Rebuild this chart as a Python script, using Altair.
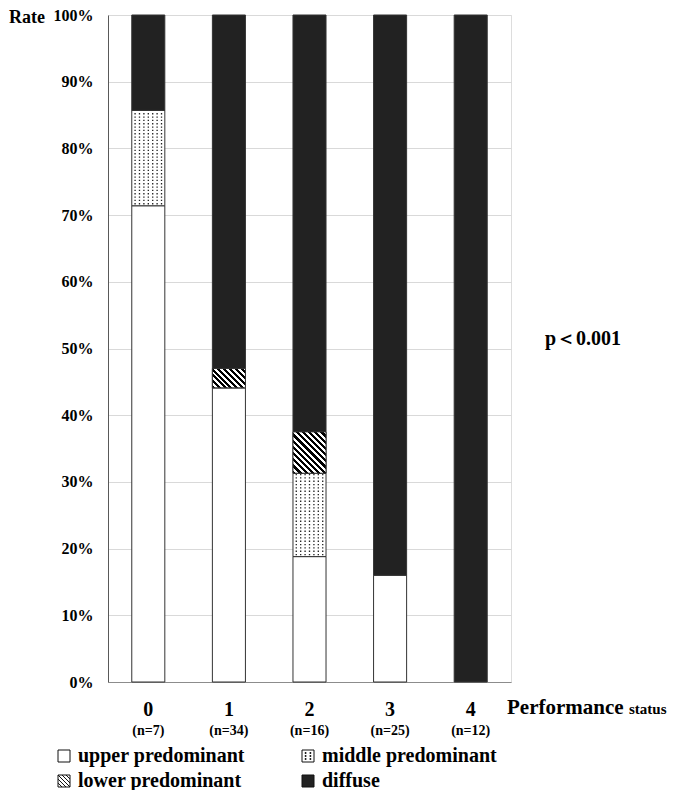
import math
import altair as alt
import pandas as pd

# ---------------- data ----------------
categories = ["0", "1", "2", "3", "4"]
n_labels = ["(n=7)", "(n=34)", "(n=16)", "(n=25)", "(n=12)"]
upper = [71.4, 44.1, 18.8, 16.0, 0.0]
middle = [14.3, 0.0, 12.5, 0.0, 0.0]
lower = [0.0, 2.9, 6.2, 0.0, 0.0]
diffuse = [14.3, 53.0, 62.5, 84.0, 100.0]
patterns = ["upper predominant", "middle predominant", "lower predominant", "diffuse"]
y_ticks = [0, 10, 20, 30, 40, 50, 60, 70, 80, 90, 100]
p_text = ["p\uff1c0.001"]

# ---------------- layout / style ----------------
W, H = 403, 667
PAD_IN, PAD_OUT = 0.59, 0.295
SERIF = "Liberation Serif"
step = W / (len(categories) - PAD_IN + 2 * PAD_OUT)
BW = step * (1 - PAD_IN)

rows = []
for i, c in enumerate(categories):
    base = 0.0
    for p, vals in zip(patterns, [upper, middle, lower, diffuse]):
        v = vals[i]
        if v > 0:
            rows.append(dict(cat=c, pattern=p, y0=base, y1=base + v, value=v))
        base += v
seg = pd.DataFrame(rows)

x_scale = alt.Scale(domain=categories, paddingInner=PAD_IN, paddingOuter=PAD_OUT)
y_scale = alt.Scale(domain=[0, 100], nice=False)


def x_enc():
    return alt.X(
        "cat:N", scale=x_scale, sort=categories,
        axis=alt.Axis(title=None, labelAngle=0, labelFont=SERIF, labelFontWeight="bold",
                      labelFontSize=20, labelColor="black", labelPadding=17, ticks=False,
                      domainColor="#8c8c8c", grid=False),
    )


def y_enc(field):
    return alt.Y(
        field, scale=y_scale,
        axis=alt.Axis(title=None, values=y_ticks, labelExpr="datum.value + '%'", ticks=False,
                      labelPadding=15, labelFont=SERIF, labelFontWeight="bold", labelFontSize=16,
                      labelColor="black", gridColor="#d9d9d9", domainColor="#595959"),
    )


bars = alt.Chart(seg).mark_bar(stroke="#333333", strokeWidth=1).encode(
    x=x_enc(), y=y_enc("y0:Q"), y2="y1:Q",
    fill=alt.condition(alt.datum.pattern == "diffuse", alt.value("#222222"), alt.value("white")),
)

# hatch overlays ("\\" stripes) for lower predominant
layers = [bars]
lower_rows = seg[seg["pattern"] == "lower predominant"]
for _, r in lower_rows.iterrows():
    h = r["value"] / 100.0 * H
    w = BW
    k = (w + h) / (w * w + h * h)
    span = (w + h) / math.sqrt(2)
    n = max(1, int(round(span / 4.3)))
    stops = []
    for j in range(n):
        a, m, b = j / n, (j + 0.5) / n, (j + 1) / n
        stops += [alt.GradientStop(color="black", offset=a), alt.GradientStop(color="black", offset=m),
                  alt.GradientStop(color="white", offset=m), alt.GradientStop(color="white", offset=b)]
    grad = alt.LinearGradient(gradient="linear", stops=stops, x1=0, y1=1, x2=w * k, y2=1 - h * k)
    layers.append(
        alt.Chart(pd.DataFrame([r])).mark_bar(fill=grad, stroke="#333333", strokeWidth=1).encode(
            x=x_enc(), y=y_enc("y0:Q"), y2="y1:Q")
    )

# dotted overlay for middle predominant: one symbol per row of dots
dot_xs = [-0.80 + 1.60 * i / 6 for i in range(7)]
DOT_ROW = " ".join(f"M{x - 0.04:.3f},-0.04h0.08v0.08h-0.08Z" for x in dot_xs)
dot_rows = []
for _, r in seg[seg["pattern"] == "middle predominant"].iterrows():
    yy = r["y0"] + 0.3
    while yy < r["y1"] - 0.1:
        dot_rows.append(dict(cat=r["cat"], yd=yy))
        yy += 0.5
dots = alt.Chart(pd.DataFrame(dot_rows)).mark_point(
    shape=DOT_ROW, size=BW * BW, filled=True, color="#222222", opacity=1, strokeWidth=0
).encode(x=x_enc(), y=y_enc("yd:Q"))
layers.append(dots)

# legend (invisible points carry fill + stroke + custom shape)
SQ = "M-1,-1H1V1H-1Z"
DOTTED = SQ + " " + " ".join(
    f"M{x - 0.08:.2f},{y - 0.08:.2f}h0.16v0.16h-0.16Z" for x in (-0.4, 0.4) for y in (-0.5, 0.0, 0.5))
HATCH = SQ + " M-1,-1L1,1 M-1,-0.33L0.33,1 M-0.33,-1L1,0.33 M-1,0.33L-0.33,1 M0.33,-1L1,-0.33"
shape_scale = alt.Scale(domain=patterns, range=[SQ, DOTTED, HATCH, SQ])
fill_scale = alt.Scale(domain=patterns, range=["white", "white", "white", "#222222"])
stroke_scale = alt.Scale(domain=patterns, range=["#111111", "#111111", "#111111", "#111111"])


def legend():
    return alt.Legend(title=None, orient="none", legendX=-54, legendY=731, columns=2,
                      direction="horizontal", labelFont=SERIF, labelFontWeight="bold",
                      labelFontSize=20, labelColor="black", symbolSize=144,
                      symbolStrokeWidth=1, symbolOpacity=1, labelOffset=4, columnPadding=53,
                      rowPadding=5, labelLimit=400)


leg = alt.Chart(seg).mark_point(filled=True, opacity=0, strokeWidth=1).encode(
    x=x_enc(), y=y_enc("y0:Q"),
    fill=alt.Fill("pattern:N", scale=fill_scale, legend=legend()),
    stroke=alt.Stroke("pattern:N", scale=stroke_scale, legend=legend()),
    shape=alt.Shape("pattern:N", scale=shape_scale, legend=legend()),
)
layers.append(leg)

# n labels under categories
nlab = alt.Chart(pd.DataFrame({"cat": categories, "nl": n_labels})).mark_text(
    font=SERIF, fontWeight="bold", fontSize=14, baseline="alphabetic", color="black"
).encode(x=x_enc(), y=alt.value(720), text="nl:N")
layers.append(nlab)

# annotations
def label(text, xv, yv, size, align="left"):
    return alt.Chart(pd.DataFrame({"t": [text]})).mark_text(
        font=SERIF, fontWeight="bold", fontSize=size, align=align, baseline="alphabetic", color="black"
    ).encode(x=alt.value(xv), y=alt.value(yv), text="t:N")


layers.append(label("Rate", -99, 8, 18))
layers.append(label(p_text[0], 437, 330, 20))
layers.append(label("Performance", 399, 699, 21))
layers.append(label("status", 521, 699, 15))

chart = alt.layer(*layers).properties(
    width=W, height=H,
    padding={"left": 100, "top": 7, "right": 166, "bottom": 108},
    autosize=alt.AutoSizeParams(type="none"),
).configure_view(stroke="#d9d9d9").configure(background="white")

chart.save("out.html", embed_options={"renderer": "svg", "actions": False})
